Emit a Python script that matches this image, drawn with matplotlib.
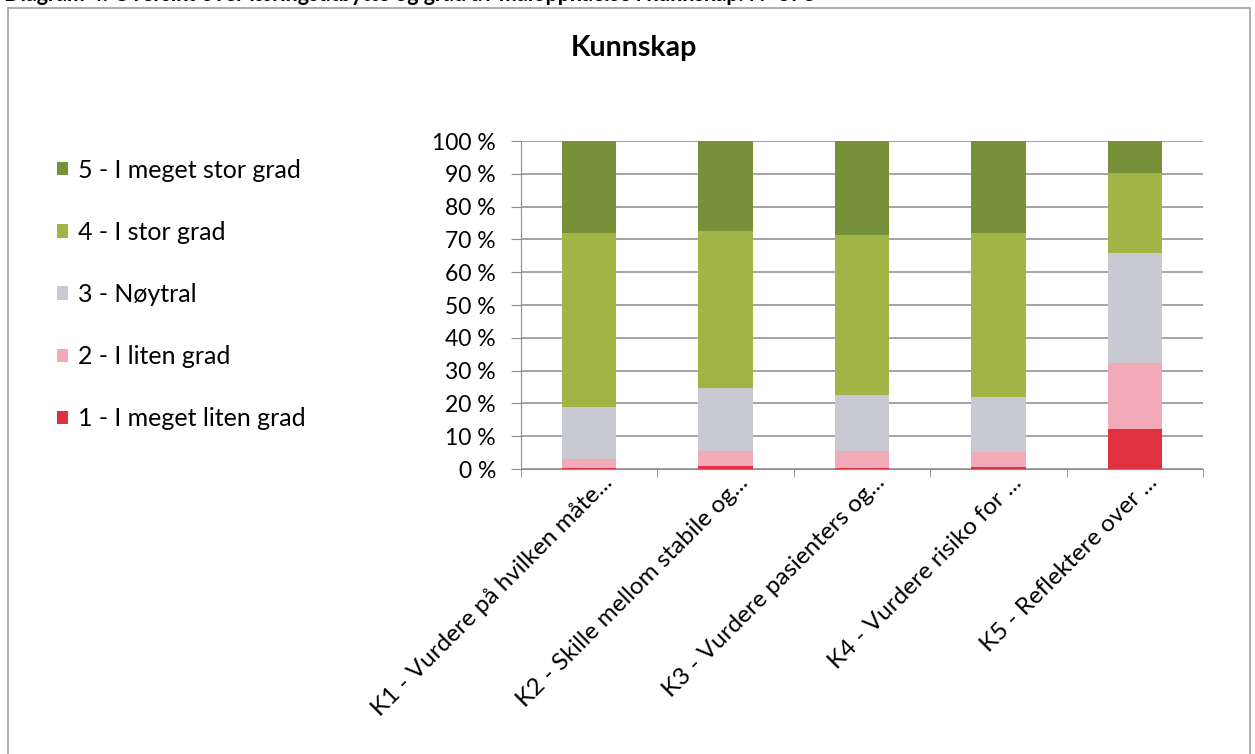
import numpy as np
import matplotlib
matplotlib.use("Agg")
import matplotlib.pyplot as plt
import matplotlib.transforms as mtrans
from matplotlib.patches import Rectangle, Patch
from matplotlib.ticker import FuncFormatter, FixedLocator

plt.rcParams['font.family'] = ['Lato', 'DejaVu Sans']

categories = ["K1 - Vurdere på hvilken måte...",
              "K2 - Skille mellom stabile og...",
              "K3 - Vurdere pasienters og...",
              "K4 - Vurdere risiko for ...",
              "K5 - Reflektere over ..."]
levels = ["1 - I meget liten grad", "2 - I liten grad", "3 - Nøytral",
          "4 - I stor grad", "5 - I meget stor grad"]
colors = ["#E0313F", "#F2A9B8", "#C9CAD1", "#A2B445", "#76913A"]

# percentages per level for each item
lvl1 = [0.3, 1.0, 0.4, 0.5, 12.2]
lvl2 = [2.7, 4.6, 5.2, 4.8, 20.1]
lvl3 = [16.0, 19.0, 17.0, 16.5, 33.6]
lvl4 = [53.0, 47.9, 48.8, 50.2, 24.4]
lvl5 = [28.0, 27.5, 28.6, 28.0, 9.7]
data = [lvl1, lvl2, lvl3, lvl4, lvl5]

fig = plt.figure(figsize=(12.55, 7.54), dpi=100)
ax = fig.add_axes([521 / 1255, 1 - 469 / 754, (1203 - 521) / 1255, (469 - 141) / 754])

x = np.arange(len(categories))
bottom = np.zeros(len(categories))
for vals, col in zip(data, colors):
    ax.bar(x, vals, 0.4, bottom=bottom, color=col, zorder=3)
    bottom += np.array(vals)

ax.set_ylim(0, 100)
ax.set_xlim(-0.5, len(categories) - 0.5)
ax.set_yticks(np.arange(0, 101, 10))
ax.yaxis.set_major_formatter(FuncFormatter(lambda v, p: "%d %%" % v))
ax.grid(axis='y', color='#8C8C8C', linewidth=1.1, zorder=0)
ax.tick_params(axis='y', length=7, color='#8C8C8C', labelsize=16.5, pad=11)

ax.set_xticks(x)
ax.set_xticklabels(categories, rotation=45, ha='right', rotation_mode='anchor',
                   fontsize=17.5)
ax.tick_params(axis='x', length=0, pad=2)
ax.xaxis.set_minor_locator(FixedLocator(np.arange(-0.5, len(categories), 1.0)))
ax.tick_params(axis='x', which='minor', length=6, color='#8C8C8C')
# shift the rotated labels so their ends sit just right of the bar centre
offset = mtrans.ScaledTranslation(12 / 100, 0, fig.dpi_scale_trans)
for lab in ax.get_xticklabels():
    lab.set_transform(lab.get_transform() + offset)

for s in ['top', 'right']:
    ax.spines[s].set_visible(False)
ax.spines['left'].set_color('#8C8C8C')
ax.spines['bottom'].set_color('#8C8C8C')

fig.text(634 / 1255, 1 - 48 / 754, "Kunnskap", ha='center', va='center',
         fontsize=20.5, fontweight='bold')

handles = [Patch(facecolor=c, edgecolor='none') for c in colors][::-1]
fig.legend(handles, levels[::-1], loc='upper left',
           bbox_to_anchor=(44 / 1255, 1 - 146 / 754), frameon=False,
           fontsize=18, labelspacing=1.57, handlelength=0.45, handleheight=0.45,
           handletextpad=0.4, borderpad=0)

# frame of the scanned page and the clipped caption line above it
fig.patches.append(Rectangle((8 / 1255, -0.05), 1242 / 1255, 1.05 - 8 / 754,
                             transform=fig.transFigure, fill=False,
                             edgecolor='#A0A0A0', linewidth=1.2))
fig.text(4 / 1255, 1 + 6 / 754,
         "Diagram 4: Oversikt over læringsutbytte og grad av måloppnåelse i kunnskap. N=378",
         ha='left', va='center', fontsize=15.5, fontweight='bold')

fig.savefig("out.png", dpi=100)
